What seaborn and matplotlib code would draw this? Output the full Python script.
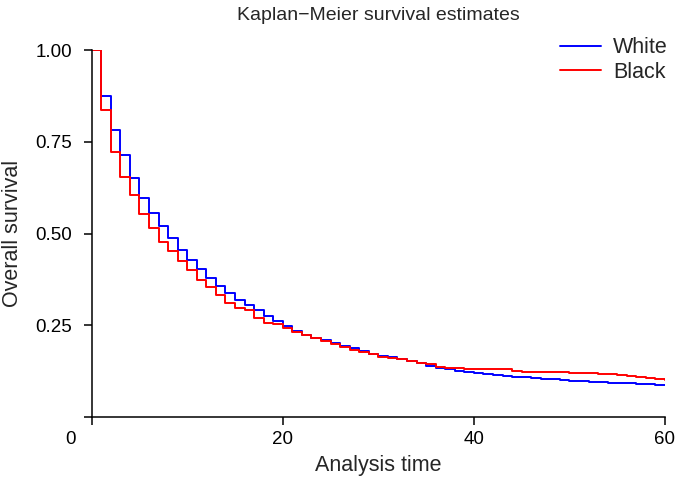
import numpy as np
import pandas as pd
import matplotlib
matplotlib.use("Agg")
import matplotlib.pyplot as plt
import matplotlib.transforms as mtransforms
import seaborn as sns

#----------------------------------------------
''' DATA (read off the reference) '''
#----------------------------------------------

months = list(range(0, 61))

white = [1.000, 0.876, 0.782, 0.713, 0.651, 0.596, 0.556, 0.520, 0.489, 0.454,
         0.428, 0.402, 0.378, 0.357, 0.338, 0.318, 0.305, 0.291, 0.276, 0.260,
         0.247, 0.234, 0.223, 0.216, 0.209, 0.202, 0.194, 0.187, 0.179, 0.172,
         0.166, 0.163, 0.158, 0.152, 0.146, 0.138, 0.132, 0.129, 0.126, 0.121,
         0.118, 0.116, 0.114, 0.112, 0.109, 0.108, 0.106, 0.104, 0.102, 0.100,
         0.097, 0.097, 0.096, 0.095, 0.093, 0.092, 0.091, 0.090, 0.088, 0.087,
         0.087]

black = [1.000, 0.836, 0.722, 0.654, 0.604, 0.554, 0.514, 0.478, 0.451, 0.424,
         0.400, 0.373, 0.355, 0.332, 0.309, 0.297, 0.291, 0.270, 0.257, 0.254,
         0.243, 0.231, 0.222, 0.216, 0.206, 0.198, 0.191, 0.182, 0.177, 0.170,
         0.164, 0.160, 0.157, 0.152, 0.147, 0.145, 0.137, 0.134, 0.134, 0.130,
         0.129, 0.129, 0.129, 0.129, 0.125, 0.123, 0.123, 0.123, 0.121, 0.121,
         0.118, 0.118, 0.118, 0.116, 0.116, 0.114, 0.111, 0.109, 0.106, 0.104,
         0.100]

groups = ["White", "Black"]
colors = ["#0000FF", "#FF0000"]

x_ticks = [0, 20, 40, 60]
y_ticks = [0, 0.25, 0.50, 0.75, 1.00]
y_labels = ["", "0.25", "0.50", "0.75", "1.00"]

df = pd.DataFrame({
    "time": months + months,
    "survival": white + black,
    "group": ["White"] * len(months) + ["Black"] * len(months),
})

#----------------------------------------------
''' PLOT DATA '''
#----------------------------------------------

sns.set_style("ticks")
plt.rcParams["font.family"] = ["Liberation Sans", "DejaVu Sans"]

fig, ax = plt.subplots(figsize=(6.78, 4.88), dpi=100)
fig.subplots_adjust(left=0.1352, right=0.9808, bottom=0.1461, top=0.8969)

sns.lineplot(data=df, x="time", y="survival", hue="group", hue_order=groups,
             palette=colors, drawstyle="steps-post", linewidth=1.4, ax=ax)

ax.set_xlim(0, 60)
ax.set_ylim(0, 1)
ax.set_xticks(x_ticks)
ax.set_yticks(y_ticks)
ax.set_yticklabels(y_labels)
sns.despine(ax=ax)
for s in ["left", "bottom"]:
    ax.spines[s].set_linewidth(1.1)
    ax.spines[s].set_color("black")
ax.tick_params(axis="both", direction="out", length=6, width=1.1, color="black",
               labelsize=13.5, labelcolor="black")
ax.tick_params(axis="y", pad=8)
ax.tick_params(axis="x", pad=4)

# the "0" label sits left of its tick in the reference
offset = mtransforms.ScaledTranslation(-21 / 100, 0, fig.dpi_scale_trans)
lab0 = ax.get_xticklabels()[0]
lab0.set_transform(lab0.get_transform() + offset)

ax.set_xlabel("Analysis time", fontsize=15.5, labelpad=5)
ax.set_ylabel("Overall survival", fontsize=15.5, labelpad=9)
ax.set_title("Kaplan\u2212Meier survival estimates", fontsize=14, pad=22)

ax.legend(loc="upper right", bbox_to_anchor=(1.005, 1.035), frameon=False,
          fontsize=15.5, handlelength=1.9, handletextpad=0.55, labelspacing=0.15,
          borderaxespad=0, borderpad=0)

plt.savefig("out.png", dpi=100)
